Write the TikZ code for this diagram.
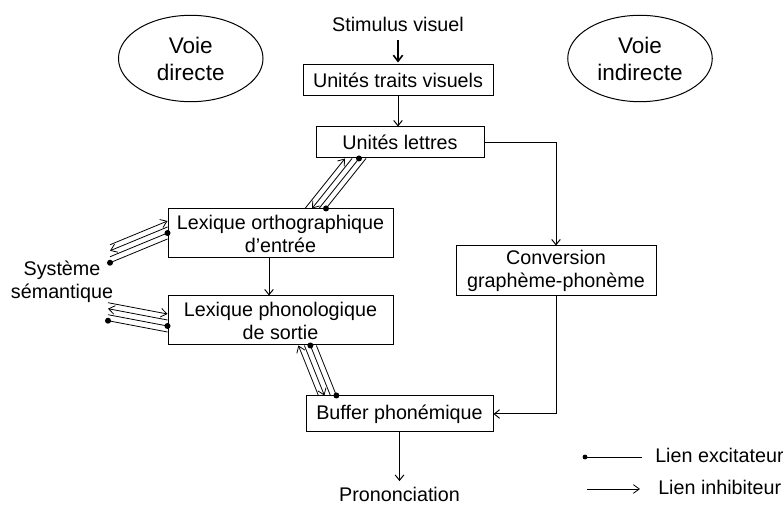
\documentclass[tikz,border=0pt]{standalone}
\usepackage{fontspec}
\setmainfont{Liberation Sans}
\usetikzlibrary{arrows.meta,calc,shapes.geometric}

% Four parallel links between two points: two inhibitory (one each way)
% and two excitatory (dot at each end in turn). #3 is the spacing vector.
\newcommand\linkset[3]{%
  \draw[inh] ($(#1)-1.5*#3$) -- ($(#2)-1.5*#3$);
  \draw[inh] ($(#2)-0.5*#3$) -- ($(#1)-0.5*#3$);
  \draw[exc] ($(#1)+0.5*#3$) -- ($(#2)+0.5*#3$);
  \fill ($(#2)+0.5*#3$) circle[radius=2.25pt];
  \draw[exc] ($(#1)+1.5*#3$) -- ($(#2)+1.5*#3$);
  \fill ($(#1)+1.5*#3$) circle[radius=2.25pt];
}

\begin{document}
\begin{tikzpicture}[x=0.75pt,y=-0.75pt,
  every node/.style={font=\fontsize{14.8}{17.25}\selectfont},
  stage/.style={draw,line width=0.75pt,inner sep=0pt,align=center},
  route/.style={draw,ellipse,line width=0.75pt,inner sep=0pt,align=center,
    minimum width=108.4pt,minimum height=64.8pt,
    font=\fontsize{16.9}{20.25}\selectfont},
  txt/.style={inner sep=0pt},
  flow/.style={line width=0.75pt,-{Straight Barb[length=4pt,width=6.5pt]}},
  inh/.style={line width=0.6pt,-{Straight Barb[length=4.5pt,width=6.5pt]}},
  exc/.style={line width=0.6pt},
]
\useasboundingbox (0,0) rectangle (783,506);

% the two routes
\node[route] (vd) at (190.75,58.5) {Voie\\directe};
\node[route] (vi) at (640,58.5) {Voie\\indirecte};

% processing stages
\node[txt,anchor=base] (st) at (398,31.7) {Stimulus visuel};
\node[stage,minimum width=142.5pt,minimum height=23.25pt] (tv) at (398,80.5) {Unités traits visuels};
\node[stage,minimum width=126pt,minimum height=23.25pt] (ul) at (400,142.5) {Unités lettres};
\node[stage,minimum width=168.75pt,minimum height=36.75pt] (lo) at (280.5,233.5) {Lexique orthographique\\d’entrée};
\node[stage,minimum width=168.75pt,minimum height=36.75pt] (lp) at (280.5,320.5) {Lexique phonologique\\de sortie};
\node[stage,minimum width=150pt,minimum height=37.5pt] (cg) at (556,271) {Conversion\\graphème-phonème};
\node[stage,minimum width=140.25pt,minimum height=27pt] (bp) at (399.5,414) {Buffer phonémique};
\node[txt,anchor=base] (pr) at (399.5,501) {Prononciation};
\node[txt,align=center] (ss) at (62,281.3) {Système\\sémantique};

% main flow
\draw[line width=1.2pt,-{Straight Barb[length=4.5pt,width=7pt]}] ([yshift=-6pt]st.south) -- ([yshift=1.5pt]tv.north);
\draw[flow] (tv.south) -- (tv.south |- ul.north);
\draw[flow] (ul.east) -| (cg.north);
\draw[flow] (cg.south) |- (bp.east);
\draw[flow] ($(lo.south)+(-11.5,0)$) -- ($(lp.north)+(-11.5,0)$);
\draw[flow] (bp.south) -- ([yshift=4pt]pr.north);

% ends of the bundled links
\coordinate (ulL) at ($(ul.south)+(-44.5,0)$);
\coordinate (loT) at ($(lo.north)+(35,0)$);
\coordinate (loW) at ($(lo.west)+(0,-3.5)$);
\coordinate (ssA) at (110,253.75);
\coordinate (lpW) at ($(lp.west)+(0,2.5)$);
\coordinate (ssB) at (108,311.7);
\coordinate (lpS) at ($(lp.south)+(26.9,0)$);
\coordinate (bpN) at ($(bp.north)+(-72.1,0)$);

\linkset{loT}{ulL}{(7,0)}
\linkset{ssA}{loW}{(0,6)}
\linkset{ssB}{lpW}{(0,6)}
\linkset{bpN}{lpS}{(6,0)}

% legend
\coordinate (exA) at (585,457);
\coordinate (exB) at (642,457);
\coordinate (inA) at (587,489);
\coordinate (inB) at (640,489);
\draw[exc] (exA) -- (exB);
\fill (exA) circle[radius=1.8pt];
\draw[inh] (inA) -- (inB);
\node[txt,anchor=base west] (lex) at (655,463) {Lien excitateur};
\node[txt,anchor=base west] (lin) at (658,494.5) {Lien inhibiteur};
\end{tikzpicture}
\end{document}
